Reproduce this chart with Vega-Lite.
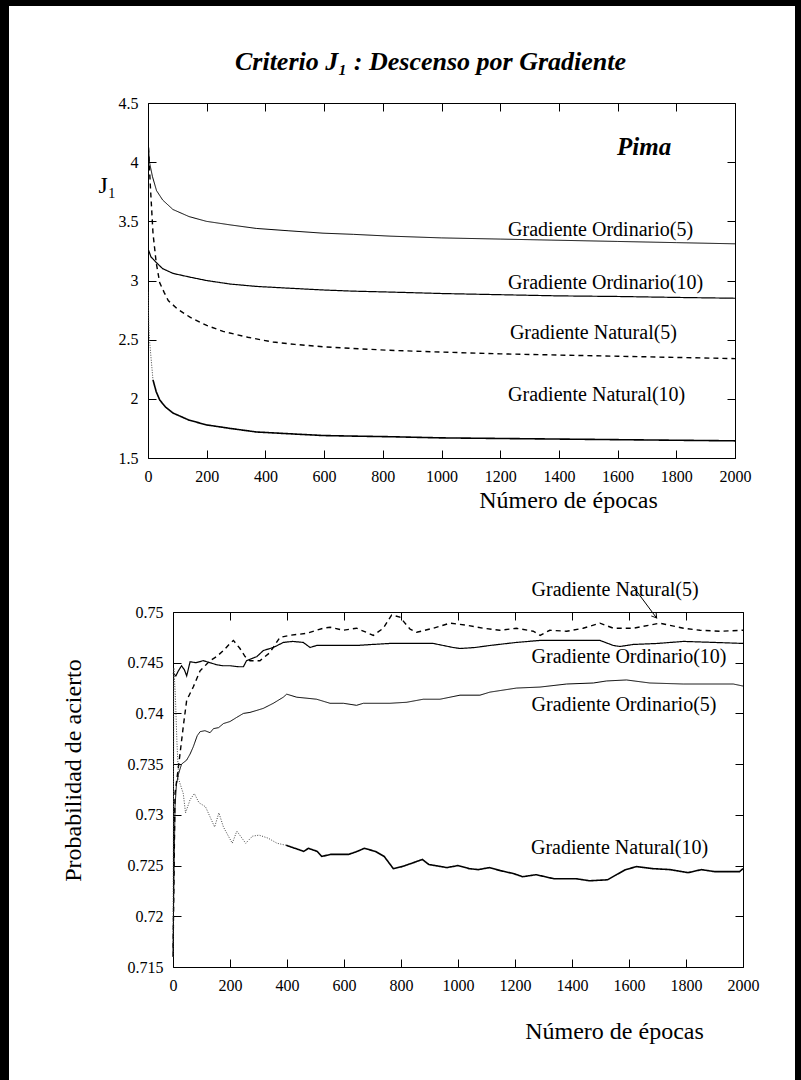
{
  "$schema": "https://vega.github.io/schema/vega-lite/v6.json",
  "padding": 0,
  "background": "white",
  "columns": 5,
  "spacing": 0,
  "align": "each",
  "bounds": "flush",
  "datasets": {
    "j1": [
      {"serie":"Ordinario(5)","epoca":0,"valor":4.2},{"serie":"Ordinario(5)","epoca":5,"valor":4.0},{"serie":"Ordinario(5)","epoca":15,"valor":3.88},{"serie":"Ordinario(5)","epoca":29,"valor":3.76},{"serie":"Ordinario(5)","epoca":50,"valor":3.68},{"serie":"Ordinario(5)","epoca":85,"valor":3.6},{"serie":"Ordinario(5)","epoca":140,"valor":3.54},{"serie":"Ordinario(5)","epoca":199,"valor":3.5},{"serie":"Ordinario(5)","epoca":280,"valor":3.47},{"serie":"Ordinario(5)","epoca":369,"valor":3.44},{"serie":"Ordinario(5)","epoca":480,"valor":3.42},{"serie":"Ordinario(5)","epoca":596,"valor":3.4},{"serie":"Ordinario(5)","epoca":700,"valor":3.39},{"serie":"Ordinario(5)","epoca":824,"valor":3.375},{"serie":"Ordinario(5)","epoca":1000,"valor":3.36},{"serie":"Ordinario(5)","epoca":1200,"valor":3.35},{"serie":"Ordinario(5)","epoca":1400,"valor":3.34},{"serie":"Ordinario(5)","epoca":1600,"valor":3.33},{"serie":"Ordinario(5)","epoca":1800,"valor":3.32},{"serie":"Ordinario(5)","epoca":2000,"valor":3.31},
      {"serie":"Ordinario(10)","epoca":0,"valor":3.27},{"serie":"Ordinario(10)","epoca":10,"valor":3.2},{"serie":"Ordinario(10)","epoca":29,"valor":3.15},{"serie":"Ordinario(10)","epoca":50,"valor":3.1},{"serie":"Ordinario(10)","epoca":85,"valor":3.06},{"serie":"Ordinario(10)","epoca":140,"valor":3.03},{"serie":"Ordinario(10)","epoca":199,"valor":3.0},{"serie":"Ordinario(10)","epoca":280,"valor":2.97},{"serie":"Ordinario(10)","epoca":369,"valor":2.95},{"serie":"Ordinario(10)","epoca":480,"valor":2.935},{"serie":"Ordinario(10)","epoca":596,"valor":2.92},{"serie":"Ordinario(10)","epoca":700,"valor":2.91},{"serie":"Ordinario(10)","epoca":859,"valor":2.9},{"serie":"Ordinario(10)","epoca":1000,"valor":2.89},{"serie":"Ordinario(10)","epoca":1200,"valor":2.88},{"serie":"Ordinario(10)","epoca":1400,"valor":2.87},{"serie":"Ordinario(10)","epoca":1600,"valor":2.865},{"serie":"Ordinario(10)","epoca":1800,"valor":2.857},{"serie":"Ordinario(10)","epoca":2000,"valor":2.85},
      {"serie":"Natural(5)","epoca":0,"valor":4.2},{"serie":"Natural(5)","epoca":8,"valor":3.8},{"serie":"Natural(5)","epoca":17,"valor":3.4},{"serie":"Natural(5)","epoca":28,"valor":3.15},{"serie":"Natural(5)","epoca":40,"valor":2.98},{"serie":"Natural(5)","epoca":55,"valor":2.9},{"serie":"Natural(5)","epoca":69,"valor":2.83},{"serie":"Natural(5)","epoca":100,"valor":2.76},{"serie":"Natural(5)","epoca":143,"valor":2.69},{"serie":"Natural(5)","epoca":200,"valor":2.62},{"serie":"Natural(5)","epoca":256,"valor":2.57},{"serie":"Natural(5)","epoca":340,"valor":2.52},{"serie":"Natural(5)","epoca":426,"valor":2.48},{"serie":"Natural(5)","epoca":500,"valor":2.46},{"serie":"Natural(5)","epoca":596,"valor":2.44},{"serie":"Natural(5)","epoca":700,"valor":2.425},{"serie":"Natural(5)","epoca":824,"valor":2.41},{"serie":"Natural(5)","epoca":1000,"valor":2.395},{"serie":"Natural(5)","epoca":1200,"valor":2.38},{"serie":"Natural(5)","epoca":1400,"valor":2.37},{"serie":"Natural(5)","epoca":1600,"valor":2.36},{"serie":"Natural(5)","epoca":1800,"valor":2.35},{"serie":"Natural(5)","epoca":2000,"valor":2.34},
      {"serie":"Natural(10)","epoca":0,"valor":2.9},{"serie":"Natural(10)","epoca":3,"valor":2.6},{"serie":"Natural(10)","epoca":6,"valor":2.47},{"serie":"Natural(10)","epoca":12,"valor":2.3},{"serie":"Natural(10)","epoca":17,"valor":2.16},{"serie":"Natural(10)","epoca":28,"valor":2.06},{"serie":"Natural(10)","epoca":40,"valor":1.99},{"serie":"Natural(10)","epoca":60,"valor":1.93},{"serie":"Natural(10)","epoca":85,"valor":1.88},{"serie":"Natural(10)","epoca":140,"valor":1.82},{"serie":"Natural(10)","epoca":199,"valor":1.78},{"serie":"Natural(10)","epoca":280,"valor":1.75},{"serie":"Natural(10)","epoca":369,"valor":1.72},{"serie":"Natural(10)","epoca":480,"valor":1.705},{"serie":"Natural(10)","epoca":596,"valor":1.69},{"serie":"Natural(10)","epoca":700,"valor":1.685},{"serie":"Natural(10)","epoca":824,"valor":1.68},{"serie":"Natural(10)","epoca":1000,"valor":1.67},{"serie":"Natural(10)","epoca":1200,"valor":1.665},{"serie":"Natural(10)","epoca":1400,"valor":1.66},{"serie":"Natural(10)","epoca":1600,"valor":1.655},{"serie":"Natural(10)","epoca":1800,"valor":1.65},{"serie":"Natural(10)","epoca":2000,"valor":1.645}
    ],
    "prob": [
      {"serie":"Ordinario(10)","epoca":0,"valor":0.744},{"serie":"Ordinario(10)","epoca":10,"valor":0.7437},{"serie":"Ordinario(10)","epoca":19,"valor":0.7442},{"serie":"Ordinario(10)","epoca":30,"valor":0.7447},{"serie":"Ordinario(10)","epoca":40,"valor":0.7443},{"serie":"Ordinario(10)","epoca":48,"valor":0.7437},{"serie":"Ordinario(10)","epoca":60,"valor":0.7451},{"serie":"Ordinario(10)","epoca":80,"valor":0.745},{"serie":"Ordinario(10)","epoca":106,"valor":0.7452},{"serie":"Ordinario(10)","epoca":130,"valor":0.745},{"serie":"Ordinario(10)","epoca":153,"valor":0.7448},{"serie":"Ordinario(10)","epoca":175,"valor":0.7447},{"serie":"Ordinario(10)","epoca":200,"valor":0.7447},{"serie":"Ordinario(10)","epoca":230,"valor":0.7446},{"serie":"Ordinario(10)","epoca":247,"valor":0.7446},{"serie":"Ordinario(10)","epoca":258,"valor":0.7452},{"serie":"Ordinario(10)","epoca":294,"valor":0.7456},{"serie":"Ordinario(10)","epoca":317,"valor":0.7462},{"serie":"Ordinario(10)","epoca":352,"valor":0.7465},{"serie":"Ordinario(10)","epoca":387,"valor":0.747},{"serie":"Ordinario(10)","epoca":420,"valor":0.7471},{"serie":"Ordinario(10)","epoca":457,"valor":0.747},{"serie":"Ordinario(10)","epoca":481,"valor":0.7465},{"serie":"Ordinario(10)","epoca":504,"valor":0.7467},{"serie":"Ordinario(10)","epoca":560,"valor":0.7467},{"serie":"Ordinario(10)","epoca":644,"valor":0.7467},{"serie":"Ordinario(10)","epoca":700,"valor":0.7468},{"serie":"Ordinario(10)","epoca":761,"valor":0.7469},{"serie":"Ordinario(10)","epoca":850,"valor":0.7469},{"serie":"Ordinario(10)","epoca":913,"valor":0.7469},{"serie":"Ordinario(10)","epoca":983,"valor":0.7465},{"serie":"Ordinario(10)","epoca":1007,"valor":0.7464},{"serie":"Ordinario(10)","epoca":1060,"valor":0.7465},{"serie":"Ordinario(10)","epoca":1112,"valor":0.7467},{"serie":"Ordinario(10)","epoca":1205,"valor":0.747},{"serie":"Ordinario(10)","epoca":1288,"valor":0.7472},{"serie":"Ordinario(10)","epoca":1400,"valor":0.7472},{"serie":"Ordinario(10)","epoca":1498,"valor":0.7472},{"serie":"Ordinario(10)","epoca":1545,"valor":0.7467},{"serie":"Ordinario(10)","epoca":1568,"valor":0.7466},{"serie":"Ordinario(10)","epoca":1615,"valor":0.7468},{"serie":"Ordinario(10)","epoca":1700,"valor":0.7469},{"serie":"Ordinario(10)","epoca":1791,"valor":0.7471},{"serie":"Ordinario(10)","epoca":1900,"valor":0.747},{"serie":"Ordinario(10)","epoca":2000,"valor":0.7469},
      {"serie":"Natural(5)","epoca":0,"valor":0.716},{"serie":"Natural(5)","epoca":7,"valor":0.7321},{"serie":"Natural(5)","epoca":19,"valor":0.7347},{"serie":"Natural(5)","epoca":36,"valor":0.7387},{"serie":"Natural(5)","epoca":48,"valor":0.7413},{"serie":"Natural(5)","epoca":71,"valor":0.7426},{"serie":"Natural(5)","epoca":95,"valor":0.7442},{"serie":"Natural(5)","epoca":130,"valor":0.7452},{"serie":"Natural(5)","epoca":153,"valor":0.7456},{"serie":"Natural(5)","epoca":177,"valor":0.7462},{"serie":"Natural(5)","epoca":200,"valor":0.7469},{"serie":"Natural(5)","epoca":212,"valor":0.7472},{"serie":"Natural(5)","epoca":235,"valor":0.7464},{"serie":"Natural(5)","epoca":253,"valor":0.7456},{"serie":"Natural(5)","epoca":270,"valor":0.7452},{"serie":"Natural(5)","epoca":305,"valor":0.7452},{"serie":"Natural(5)","epoca":340,"valor":0.746},{"serie":"Natural(5)","epoca":375,"valor":0.7475},{"serie":"Natural(5)","epoca":410,"valor":0.7477},{"serie":"Natural(5)","epoca":469,"valor":0.7479},{"serie":"Natural(5)","epoca":527,"valor":0.7484},{"serie":"Natural(5)","epoca":551,"valor":0.7485},{"serie":"Natural(5)","epoca":598,"valor":0.7482},{"serie":"Natural(5)","epoca":644,"valor":0.7484},{"serie":"Natural(5)","epoca":703,"valor":0.7477},{"serie":"Natural(5)","epoca":738,"valor":0.7484},{"serie":"Natural(5)","epoca":767,"valor":0.7497},{"serie":"Natural(5)","epoca":796,"valor":0.7495},{"serie":"Natural(5)","epoca":832,"valor":0.7483},{"serie":"Natural(5)","epoca":855,"valor":0.748},{"serie":"Natural(5)","epoca":913,"valor":0.7484},{"serie":"Natural(5)","epoca":972,"valor":0.7489},{"serie":"Natural(5)","epoca":1030,"valor":0.7487},{"serie":"Natural(5)","epoca":1089,"valor":0.7484},{"serie":"Natural(5)","epoca":1147,"valor":0.7482},{"serie":"Natural(5)","epoca":1205,"valor":0.7484},{"serie":"Natural(5)","epoca":1264,"valor":0.7481},{"serie":"Natural(5)","epoca":1288,"valor":0.7477},{"serie":"Natural(5)","epoca":1322,"valor":0.7482},{"serie":"Natural(5)","epoca":1381,"valor":0.7481},{"serie":"Natural(5)","epoca":1439,"valor":0.7484},{"serie":"Natural(5)","epoca":1498,"valor":0.7489},{"serie":"Natural(5)","epoca":1545,"valor":0.7484},{"serie":"Natural(5)","epoca":1615,"valor":0.7484},{"serie":"Natural(5)","epoca":1708,"valor":0.7489},{"serie":"Natural(5)","epoca":1791,"valor":0.7484},{"serie":"Natural(5)","epoca":1849,"valor":0.7482},{"serie":"Natural(5)","epoca":1919,"valor":0.7481},{"serie":"Natural(5)","epoca":2000,"valor":0.7482},
      {"serie":"Ordinario(5)","epoca":0,"valor":0.7165},{"serie":"Ordinario(5)","epoca":4,"valor":0.725},{"serie":"Ordinario(5)","epoca":7,"valor":0.7308},{"serie":"Ordinario(5)","epoca":12,"valor":0.733},{"serie":"Ordinario(5)","epoca":19,"valor":0.734},{"serie":"Ordinario(5)","epoca":30,"valor":0.735},{"serie":"Ordinario(5)","epoca":48,"valor":0.7354},{"serie":"Ordinario(5)","epoca":60,"valor":0.736},{"serie":"Ordinario(5)","epoca":71,"valor":0.7367},{"serie":"Ordinario(5)","epoca":85,"valor":0.7378},{"serie":"Ordinario(5)","epoca":95,"valor":0.7382},{"serie":"Ordinario(5)","epoca":112,"valor":0.7383},{"serie":"Ordinario(5)","epoca":130,"valor":0.7381},{"serie":"Ordinario(5)","epoca":142,"valor":0.7385},{"serie":"Ordinario(5)","epoca":160,"valor":0.7386},{"serie":"Ordinario(5)","epoca":177,"valor":0.739},{"serie":"Ordinario(5)","epoca":200,"valor":0.7392},{"serie":"Ordinario(5)","epoca":223,"valor":0.7396},{"serie":"Ordinario(5)","epoca":247,"valor":0.74},{"serie":"Ordinario(5)","epoca":270,"valor":0.7401},{"serie":"Ordinario(5)","epoca":294,"valor":0.7403},{"serie":"Ordinario(5)","epoca":317,"valor":0.7405},{"serie":"Ordinario(5)","epoca":352,"valor":0.741},{"serie":"Ordinario(5)","epoca":387,"valor":0.7416},{"serie":"Ordinario(5)","epoca":399,"valor":0.7419},{"serie":"Ordinario(5)","epoca":434,"valor":0.7416},{"serie":"Ordinario(5)","epoca":470,"valor":0.7415},{"serie":"Ordinario(5)","epoca":504,"valor":0.7414},{"serie":"Ordinario(5)","epoca":551,"valor":0.741},{"serie":"Ordinario(5)","epoca":598,"valor":0.741},{"serie":"Ordinario(5)","epoca":644,"valor":0.7408},{"serie":"Ordinario(5)","epoca":668,"valor":0.741},{"serie":"Ordinario(5)","epoca":761,"valor":0.741},{"serie":"Ordinario(5)","epoca":820,"valor":0.7411},{"serie":"Ordinario(5)","epoca":878,"valor":0.7414},{"serie":"Ordinario(5)","epoca":937,"valor":0.7414},{"serie":"Ordinario(5)","epoca":1007,"valor":0.7418},{"serie":"Ordinario(5)","epoca":1077,"valor":0.7418},{"serie":"Ordinario(5)","epoca":1112,"valor":0.7421},{"serie":"Ordinario(5)","epoca":1205,"valor":0.7425},{"serie":"Ordinario(5)","epoca":1288,"valor":0.7426},{"serie":"Ordinario(5)","epoca":1381,"valor":0.7429},{"serie":"Ordinario(5)","epoca":1475,"valor":0.743},{"serie":"Ordinario(5)","epoca":1521,"valor":0.7432},{"serie":"Ordinario(5)","epoca":1591,"valor":0.7433},{"serie":"Ordinario(5)","epoca":1673,"valor":0.743},{"serie":"Ordinario(5)","epoca":1791,"valor":0.7429},{"serie":"Ordinario(5)","epoca":1966,"valor":0.7429},{"serie":"Ordinario(5)","epoca":2000,"valor":0.7427},
      {"serie":"Natural(10)","epoca":0,"valor":0.716},{"serie":"Natural(10)","epoca":3,"valor":0.7445},{"serie":"Natural(10)","epoca":8,"valor":0.742},{"serie":"Natural(10)","epoca":14,"valor":0.737},{"serie":"Natural(10)","epoca":20,"valor":0.7335},{"serie":"Natural(10)","epoca":36,"valor":0.7321},{"serie":"Natural(10)","epoca":44,"valor":0.7302},{"serie":"Natural(10)","epoca":60,"valor":0.7315},{"serie":"Natural(10)","epoca":75,"valor":0.7321},{"serie":"Natural(10)","epoca":91,"valor":0.7312},{"serie":"Natural(10)","epoca":114,"valor":0.7308},{"serie":"Natural(10)","epoca":130,"valor":0.7298},{"serie":"Natural(10)","epoca":146,"valor":0.7288},{"serie":"Natural(10)","epoca":161,"valor":0.7302},{"serie":"Natural(10)","epoca":177,"valor":0.7288},{"serie":"Natural(10)","epoca":208,"valor":0.7272},{"serie":"Natural(10)","epoca":224,"valor":0.7284},{"serie":"Natural(10)","epoca":255,"valor":0.7272},{"serie":"Natural(10)","epoca":279,"valor":0.7279},{"serie":"Natural(10)","epoca":302,"valor":0.728},{"serie":"Natural(10)","epoca":334,"valor":0.7277},{"serie":"Natural(10)","epoca":365,"valor":0.7272},{"serie":"Natural(10)","epoca":397,"valor":0.727},{"serie":"Natural(10)","epoca":428,"valor":0.7267},{"serie":"Natural(10)","epoca":459,"valor":0.7264},{"serie":"Natural(10)","epoca":475,"valor":0.7267},{"serie":"Natural(10)","epoca":506,"valor":0.7264},{"serie":"Natural(10)","epoca":522,"valor":0.7259},{"serie":"Natural(10)","epoca":553,"valor":0.7261},{"serie":"Natural(10)","epoca":616,"valor":0.7261},{"serie":"Natural(10)","epoca":647,"valor":0.7264},{"serie":"Natural(10)","epoca":671,"valor":0.7267},{"serie":"Natural(10)","epoca":710,"valor":0.7264},{"serie":"Natural(10)","epoca":741,"valor":0.7259},{"serie":"Natural(10)","epoca":773,"valor":0.7247},{"serie":"Natural(10)","epoca":804,"valor":0.7249},{"serie":"Natural(10)","epoca":835,"valor":0.7252},{"serie":"Natural(10)","epoca":875,"valor":0.7256},{"serie":"Natural(10)","epoca":898,"valor":0.7251},{"serie":"Natural(10)","epoca":961,"valor":0.7248},{"serie":"Natural(10)","epoca":1000,"valor":0.725},{"serie":"Natural(10)","epoca":1039,"valor":0.7247},{"serie":"Natural(10)","epoca":1071,"valor":0.7246},{"serie":"Natural(10)","epoca":1110,"valor":0.7248},{"serie":"Natural(10)","epoca":1149,"valor":0.7245},{"serie":"Natural(10)","epoca":1196,"valor":0.7242},{"serie":"Natural(10)","epoca":1227,"valor":0.7239},{"serie":"Natural(10)","epoca":1274,"valor":0.7241},{"serie":"Natural(10)","epoca":1337,"valor":0.7237},{"serie":"Natural(10)","epoca":1415,"valor":0.7237},{"serie":"Natural(10)","epoca":1462,"valor":0.7235},{"serie":"Natural(10)","epoca":1525,"valor":0.7236},{"serie":"Natural(10)","epoca":1556,"valor":0.7241},{"serie":"Natural(10)","epoca":1588,"valor":0.7246},{"serie":"Natural(10)","epoca":1627,"valor":0.7249},{"serie":"Natural(10)","epoca":1682,"valor":0.7247},{"serie":"Natural(10)","epoca":1745,"valor":0.7246},{"serie":"Natural(10)","epoca":1807,"valor":0.7243},{"serie":"Natural(10)","epoca":1854,"valor":0.7246},{"serie":"Natural(10)","epoca":1901,"valor":0.7244},{"serie":"Natural(10)","epoca":1988,"valor":0.7244},{"serie":"Natural(10)","epoca":2000,"valor":0.7247}
    ],
    "etiquetasJ1": [
      {"texto":"Gradiente Ordinario(5)","epoca":1227,"valor":3.43},
      {"texto":"Gradiente Ordinario(10)","epoca":1227,"valor":2.98},
      {"texto":"Gradiente Natural(5)","epoca":1233,"valor":2.56},
      {"texto":"Gradiente Natural(10)","epoca":1227,"valor":2.03}
    ],
    "etiquetasProb": [
      {"texto":"Gradiente Natural(5)","epoca":1258,"valor":0.7522},
      {"texto":"Gradiente Ordinario(10)","epoca":1258,"valor":0.7456},
      {"texto":"Gradiente Ordinario(5)","epoca":1258,"valor":0.7408},
      {"texto":"Gradiente Natural(10)","epoca":1256,"valor":0.7267}
    ]
  },
  "concat": [
    {"width": 9, "height": 6, "data": {"values": []}, "mark": "point", "view": {"fill": "black", "stroke": null}},
    {"width": 139, "height": 6, "data": {"values": []}, "mark": "point", "view": {"fill": "black", "stroke": null}},
    {"width": 595, "height": 6, "data": {"values": []}, "mark": "point", "view": {"fill": "black", "stroke": null}},
    {"width": 52, "height": 6, "data": {"values": []}, "mark": "point", "view": {"fill": "black", "stroke": null}},
    {"width": 6, "height": 6, "data": {"values": []}, "mark": "point", "view": {"fill": "black", "stroke": null}},

    {"width": 9, "height": 97, "data": {"values": []}, "mark": "point", "view": {"fill": "black", "stroke": null}},
    {"width": 139, "height": 97, "data": {"values": []}, "mark": "point", "view": {"stroke": null}},
    {"width": 595, "height": 97, "data": {"values": []}, "mark": "point", "view": {"stroke": null}},
    {"width": 52, "height": 97, "data": {"values": []}, "mark": "point", "view": {"stroke": null}},
    {"width": 6, "height": 97, "data": {"values": []}, "mark": "point", "view": {"fill": "black", "stroke": null}},

    {"width": 9, "height": 355, "data": {"values": []}, "mark": "point", "view": {"fill": "black", "stroke": null}},
    {"width": 139, "height": 355, "data": {"values": []}, "mark": "point", "view": {"stroke": null}},
    {
      "width": 587,
      "height": 355,
      "view": {"stroke": null},
      "title": {"text": "Criterio J₁ : Descenso por Gradiente", "font": "Liberation Serif", "fontSize": 26, "fontStyle": "italic", "fontWeight": "bold", "color": "black", "anchor": "middle", "frame": "group", "baseline": "alphabetic", "offset": -1, "dx": -11},
      "layer": [
        {
          "data": {"name": "j1"},
          "transform": [{"filter": "datum.serie != 'Natural(10)' || datum.epoca >= 17"}],
          "mark": {"type": "line", "color": "black", "clip": true},
          "encoding": {
            "x": {"field": "epoca", "type": "quantitative", "scale": {"domain": [0, 2000], "nice": false, "zero": false},
              "axis": {"orient": "bottom", "values": [0,200,400,600,800,1000,1200,1400,1600,1800,2000], "format": "d", "title": "Número de épocas", "titleX": 420, "titleY": 49, "titleAlign": "center", "titleBaseline": "alphabetic"}},
            "y": {"field": "valor", "type": "quantitative", "scale": {"domain": [1.5, 4.5], "nice": false, "zero": false},
              "axis": {"orient": "left", "values": [1.5,2,2.5,3,3.5,4,4.5], "format": "~f", "title": "J₁", "titleAngle": 0, "titleX": -50, "titleY": 82, "titleAlign": "left", "titleBaseline": "middle"}},
            "strokeDash": {"field": "serie", "type": "nominal", "scale": {"domain": ["Ordinario(5)","Ordinario(10)","Natural(5)","Natural(10)"], "range": [[1,0],[1,0],[5,4],[1,0]]}, "legend": null},
            "strokeWidth": {"field": "serie", "type": "nominal", "scale": {"domain": ["Ordinario(5)","Ordinario(10)","Natural(5)","Natural(10)"], "range": [1,1.6,1,1.6]}, "legend": null}
          }
        },
        {
          "data": {"name": "j1"},
          "transform": [{"filter": "datum.serie == 'Natural(10)' && datum.epoca <= 17"}],
          "mark": {"type": "line", "color": "#444", "strokeWidth": 1, "strokeDash": [1, 1.5], "clip": true},
          "encoding": {
            "x": {"field": "epoca", "type": "quantitative", "axis": null},
            "y": {"field": "valor", "type": "quantitative", "axis": null}
          }
        },
        {
          "data": {"name": "etiquetasJ1"},
          "mark": {"type": "text", "align": "left", "baseline": "middle", "font": "Liberation Serif", "fontSize": 20, "color": "black", "clip": false},
          "encoding": {
            "x": {"field": "epoca", "type": "quantitative", "axis": {"orient": "top", "labels": false, "title": null, "values": [0,200,400,600,800,1000,1200,1400,1600,1800,2000]}},
            "y": {"field": "valor", "type": "quantitative", "axis": {"orient": "right", "labels": false, "title": null, "values": [1.5,2,2.5,3,3.5,4,4.5]}},
            "text": {"field": "texto"}
          }
        },
        {
          "data": {"values": [{"texto": "Pima", "epoca": 1598, "valor": 4.13}]},
          "mark": {"type": "text", "align": "left", "baseline": "middle", "font": "Liberation Serif", "fontSize": 25, "fontStyle": "italic", "fontWeight": "bold", "color": "black"},
          "encoding": {
            "x": {"field": "epoca", "type": "quantitative", "axis": null},
            "y": {"field": "valor", "type": "quantitative", "axis": null},
            "text": {"field": "texto"}
          }
        }
      ],
      "resolve": {"axis": {"x": "independent", "y": "independent"}}
    },
    {"width": 52, "height": 355, "data": {"values": []}, "mark": "point", "view": {"stroke": null}},
    {"width": 6, "height": 355, "data": {"values": []}, "mark": "point", "view": {"fill": "black", "stroke": null}},

    {"width": 9, "height": 154, "data": {"values": []}, "mark": "point", "view": {"fill": "black", "stroke": null}},
    {"width": 139, "height": 154, "data": {"values": []}, "mark": "point", "view": {"stroke": null}},
    {"width": 595, "height": 154, "data": {"values": []}, "mark": "point", "view": {"stroke": null}},
    {"width": 52, "height": 154, "data": {"values": []}, "mark": "point", "view": {"stroke": null}},
    {"width": 6, "height": 154, "data": {"values": []}, "mark": "point", "view": {"fill": "black", "stroke": null}},

    {"width": 9, "height": 355, "data": {"values": []}, "mark": "point", "view": {"fill": "black", "stroke": null}},
    {"width": 139, "height": 355, "data": {"values": []}, "mark": "point", "view": {"stroke": null}},
    {
      "width": 595,
      "height": 355,
      "view": {"stroke": null},
      "layer": [
        {
          "data": {"name": "prob"},
          "transform": [{"filter": "datum.serie != 'Natural(10)' || datum.epoca >= 397"}],
          "mark": {"type": "line", "color": "black", "clip": true},
          "encoding": {
            "x": {"field": "epoca", "type": "quantitative", "scale": {"domain": [0, 2000], "range": [25, 595], "nice": false, "zero": false},
              "axis": {"orient": "bottom", "values": [0,200,400,600,800,1000,1200,1400,1600,1800,2000], "format": "d", "title": "Número de épocas", "titleX": 466, "titleY": 71, "titleAlign": "center", "titleBaseline": "alphabetic"}},
            "y": {"field": "valor", "type": "quantitative", "scale": {"domain": [0.715, 0.75], "nice": false, "zero": false},
              "axis": {"orient": "left", "offset": -25, "values": [0.715,0.72,0.725,0.73,0.735,0.74,0.745,0.75], "format": ".3~f", "title": "Probabilidad de acierto", "titleAngle": 270, "titleX": -100, "titleY": 158, "titleAlign": "center", "titleBaseline": "middle"}},
            "strokeDash": {"field": "serie", "type": "nominal", "scale": {"domain": ["Ordinario(5)","Ordinario(10)","Natural(5)","Natural(10)"], "range": [[1,0],[1,0],[4,3],[1,0]]}, "legend": null},
            "strokeWidth": {"field": "serie", "type": "nominal", "scale": {"domain": ["Ordinario(5)","Ordinario(10)","Natural(5)","Natural(10)"], "range": [1.3,1.8,1,1.2]}, "legend": null}
          }
        },
        {
          "data": {"name": "prob"},
          "transform": [{"filter": "datum.serie == 'Natural(10)' && datum.epoca <= 397"}],
          "mark": {"type": "line", "color": "#444", "strokeWidth": 1, "strokeDash": [1, 1.5], "clip": true},
          "encoding": {
            "x": {"field": "epoca", "type": "quantitative", "axis": null},
            "y": {"field": "valor", "type": "quantitative", "axis": null}
          }
        },
        {
          "data": {"name": "etiquetasProb"},
          "mark": {"type": "text", "align": "left", "baseline": "middle", "font": "Liberation Serif", "fontSize": 20, "color": "black", "clip": false},
          "encoding": {
            "x": {"field": "epoca", "type": "quantitative", "axis": {"orient": "top", "labels": false, "title": null, "values": [0,200,400,600,800,1000,1200,1400,1600,1800,2000]}},
            "y": {"field": "valor", "type": "quantitative", "axis": {"orient": "right", "labels": false, "title": null, "values": [0.715,0.72,0.725,0.73,0.735,0.74,0.745,0.75]}},
            "text": {"field": "texto"}
          }
        },
        {
          "data": {"values": [{"epoca": 1615, "valor": 0.7525, "epoca2": 1697, "valor2": 0.7494}]},
          "mark": {"type": "rule", "color": "black", "strokeWidth": 1, "clip": false},
          "encoding": {
            "x": {"field": "epoca", "type": "quantitative", "axis": null},
            "y": {"field": "valor", "type": "quantitative", "axis": null},
            "x2": {"field": "epoca2"},
            "y2": {"field": "valor2"}
          }
        },
        {
          "data": {"values": [{"epoca": 1697, "valor": 0.7494}]},
          "mark": {"type": "point", "shape": "M -1 -0.6 L 0 0 L -1 0.6", "angle": 53.5, "size": 100, "filled": false, "stroke": "black", "strokeWidth": 1, "opacity": 1, "clip": false},
          "encoding": {
            "x": {"field": "epoca", "type": "quantitative", "axis": null},
            "y": {"field": "valor", "type": "quantitative", "axis": null}
          }
        }
      ],
      "resolve": {"axis": {"x": "independent", "y": "independent"}}
    },
    {"width": 52, "height": 355, "data": {"values": []}, "mark": "point", "view": {"stroke": null}},
    {"width": 6, "height": 355, "data": {"values": []}, "mark": "point", "view": {"fill": "black", "stroke": null}},

    {"width": 9, "height": 113, "data": {"values": []}, "mark": "point", "view": {"fill": "black", "stroke": null}},
    {"width": 139, "height": 113, "data": {"values": []}, "mark": "point", "view": {"stroke": null}},
    {"width": 595, "height": 113, "data": {"values": []}, "mark": "point", "view": {"stroke": null}},
    {"width": 52, "height": 113, "data": {"values": []}, "mark": "point", "view": {"stroke": null}},
    {"width": 6, "height": 113, "data": {"values": []}, "mark": "point", "view": {"fill": "black", "stroke": null}}
  ],
  "config": {
    "font": "Liberation Serif",
    "view": {"stroke": null},
    "axis": {
      "domain": true,
      "domainColor": "black",
      "domainWidth": 1,
      "grid": false,
      "ticks": true,
      "tickColor": "black",
      "tickSize": -8,
      "tickWidth": 1,
      "labelFont": "Liberation Serif",
      "labelFontSize": 16,
      "labelColor": "black",
      "labelPadding": 18,
      "labelFlush": false,
      "labelOverlap": false,
      "titleFont": "Liberation Serif",
      "titleFontSize": 24,
      "titleFontWeight": "normal",
      "titleColor": "black"
    }
  }
}
